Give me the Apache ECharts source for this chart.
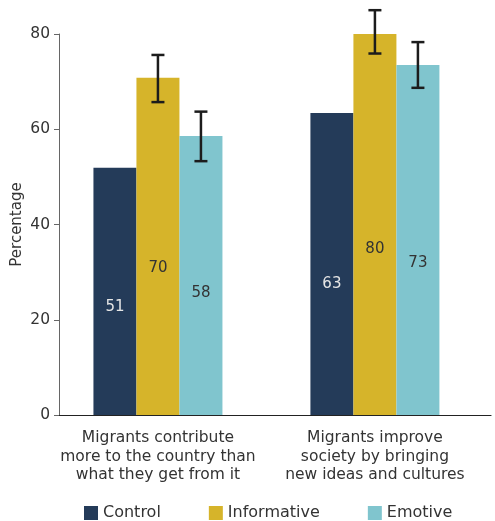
<!DOCTYPE html>
<html>
<head>
<meta charset="utf-8">
<script src="https://cdn.jsdelivr.net/npm/echarts@6/dist/echarts.min.js"></script>
<style>html,body{margin:0;padding:0;background:#fff}#c{width:495px;height:521px}</style>
</head>
<body>
<div id="c"></div>
<script>
const categories = ['Migrants contribute\nmore to the country than\nwhat they get from it', 'Migrants improve\nsociety by bringing\nnew ideas and cultures'];
const seriesNames = ['Control', 'Informative', 'Emotive'];
const control = [51.9, 63.4];
const informative = [70.8, 80.4];
const emotive = [58.6, 73.5];
const controlLabels = ['51', '63'];
const informativeLabels = ['70', '80'];
const emotiveLabels = ['58', '73'];
const informativeErr = [[65.7, 75.6], [75.9, 85.0]];
const emotiveErr = [[53.3, 63.7], [68.7, 78.3]];
const yTicks = [0, 20, 40, 60, 80];

const colors = ['#243b59', '#d6b42a', '#80c5ce'];
const FONT = 'DejaVu Sans';
const BAR_W = 43;

const chart = echarts.init(document.getElementById('c'));

function barSeries(name, vals, labels, color, labelColor) {
  return {
    name: name, type: 'bar', barWidth: BAR_W, barGap: '0%',
    itemStyle: { color: color },
    data: vals.map((v, i) => [i, v]),
    label: {
      show: true, position: ['50%', '56.5%'], align: 'center', verticalAlign: 'middle',
      color: labelColor, fontFamily: FONT, fontSize: 15,
      formatter: p => labels[p.dataIndex]
    },
    z: 2
  };
}

function errSeries(errs, shift) {
  return {
    type: 'custom', silent: true, z: 5,
    data: errs.map((e, i) => [i, e[0], e[1]]),
    renderItem: function (params, api) {
      const lo = api.coord([api.value(0), api.value(1)]);
      const hi = api.coord([api.value(0), api.value(2)]);
      const x = lo[0] + shift;
      const hw = 6.5;
      const st = { stroke: '#1c1c1c', lineWidth: 2.5 };
      return { type: 'group', children: [
        { type: 'line', shape: { x1: x, y1: lo[1], x2: x, y2: hi[1] }, style: st },
        { type: 'line', shape: { x1: x - hw, y1: lo[1], x2: x + hw, y2: lo[1] }, style: st },
        { type: 'line', shape: { x1: x - hw, y1: hi[1], x2: x + hw, y2: hi[1] }, style: st }
      ]};
    }
  };
}

chart.setOption({
  animation: false,
  grid: { left: 59, right: 4, top: 34, bottom: 106, containLabel: false, outerBoundsMode: 'none' },
  xAxis: {
    type: 'value', min: -0.456, max: 1.535,
    axisLine: { show: true, onZero: false, lineStyle: { color: '#222', width: 1.2 } },
    axisTick: { show: false },
    splitLine: { show: false },
    axisLabel: {
      customValues: [0, 1],
      formatter: v => categories[Math.round(v)] || '',
      color: '#333', fontFamily: FONT, fontSize: 15.5, lineHeight: 18.5, margin: 14
    }
  },
  yAxis: {
    type: 'value', min: 0, max: 80, interval: 20,
    name: 'Percentage', nameLocation: 'middle', nameGap: 34, nameRotate: 90,
    nameMoveOverlap: false,
    nameTextStyle: { color: '#333', fontFamily: FONT, fontSize: 15 },
    axisLine: { show: true, onZero: false, lineStyle: { color: '#666', width: 1 } },
    axisTick: { show: true, length: 5, lineStyle: { color: '#666' } },
    splitLine: { show: false },
    axisLabel: { color: '#333', fontFamily: FONT, fontSize: 15.5, margin: 9,
      formatter: v => yTicks.includes(v) ? String(v) : '' }
  },
  legend: {
    bottom: -5, left: 79, itemWidth: 14, itemHeight: 14, itemGap: 48,
    icon: 'rect', data: seriesNames,
    textStyle: { color: '#333', fontFamily: FONT, fontSize: 16 }
  },
  series: [
    barSeries(seriesNames[0], control, controlLabels, colors[0], '#e6e6e6'),
    barSeries(seriesNames[1], informative, informativeLabels, colors[1], '#333'),
    barSeries(seriesNames[2], emotive, emotiveLabels, colors[2], '#333'),
    errSeries(informativeErr, 0),
    errSeries(emotiveErr, BAR_W)
  ]
});
</script>
</body>
</html>
